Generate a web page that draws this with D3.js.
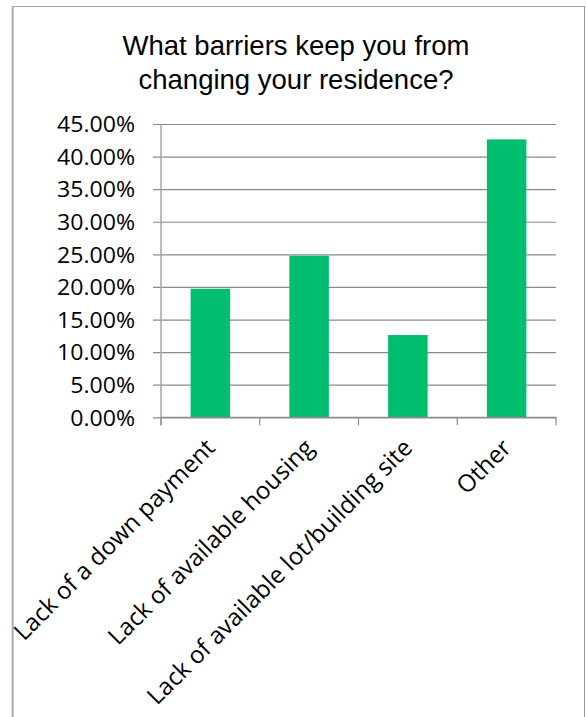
<!DOCTYPE html>
<html>
<head>
<meta charset="utf-8">
<script src="https://cdn.jsdelivr.net/npm/d3@7"></script>
<style>
  html, body { margin: 0; padding: 0; background: #fff; }
  svg { display: block; }
</style>
</head>
<body>
<script>
// Survey question and answers
const titleLines = ["What barriers keep you from", "changing your residence?"];
const categories = [
  "Lack of a down payment",
  "Lack of available housing",
  "Lack of available lot/building site",
  "Other"
];
const shares = [0.1972, 0.2479, 0.1262, 0.4264];
const yTicks = [0, 0.05, 0.10, 0.15, 0.20, 0.25, 0.30, 0.35, 0.40, 0.45];

const W = 586, H = 717;
const plot = { left: 161, right: 556, top: 124, bottom: 417.3 };
const stretch = 1.1; // percentage labels are set slightly wide

const svg = d3.select("body").append("svg")
  .attr("width", W).attr("height", H);

// chart frame
const frame = svg.append("g").attr("fill", "none");
frame.append("line").attr("x1", 12.7).attr("x2", 12.7).attr("y1", 6).attr("y2", H)
  .attr("stroke", "#adadad").attr("stroke-width", 2);
frame.append("line").attr("x1", 12).attr("x2", 585).attr("y1", 6.5).attr("y2", 6.5)
  .attr("stroke", "#a6a6a6").attr("stroke-width", 1);
frame.append("line").attr("x1", 584.5).attr("x2", 584.5).attr("y1", 6).attr("y2", H)
  .attr("stroke", "#9a9a9a").attr("stroke-width", 1);

// title
svg.append("text")
  .attr("x", 296).attr("y", 55)
  .attr("text-anchor", "middle")
  .attr("font-family", "'Liberation Sans', Arial, sans-serif")
  .attr("font-size", 27.5)
  .attr("fill", "#000")
  .selectAll("tspan").data(titleLines).join("tspan")
  .attr("x", 296).attr("dy", (d, i) => i === 0 ? 0 : 34)
  .text(d => d);

const x = d3.scaleBand()
  .domain(categories)
  .range([plot.left, plot.right])
  .paddingInner(0.6)
  .paddingOuter(0.3);

const y = d3.scaleLinear()
  .domain([0, 0.45])
  .range([plot.bottom, plot.top]);

const labelFont = "'Open Sans', sans-serif";

// horizontal gridlines with tick stubs to the left of the axis
const yAxis = d3.axisLeft(y)
  .tickValues(yTicks)
  .tickSize(-(plot.right - plot.left))
  .tickSizeOuter(0)
  .tickPadding(0)
  .tickFormat(d3.format(".2%"));

const gy = svg.append("g")
  .attr("transform", `translate(${plot.left},0)`)
  .call(yAxis);
gy.select(".domain").remove();
gy.selectAll(".tick line")
  .attr("x1", -8)
  .attr("stroke", "#8a8a8a")
  .attr("stroke-width", 1.2);
gy.selectAll(".tick text")
  .attr("x", 0)
  .attr("transform", `translate(-26,0) scale(${stretch},1)`)
  .attr("dy", "0.37em")
  .attr("font-family", labelFont)
  .attr("font-size", 21)
  .attr("fill", "#000");

// bars
svg.append("g").selectAll("rect")
  .data(categories.map((c, i) => ({ c, v: shares[i] })))
  .join("rect")
  .attr("x", d => x(d.c))
  .attr("width", x.bandwidth())
  .attr("y", d => y(d.v))
  .attr("height", d => y(0) - y(d.v))
  .attr("fill", "#00be6e");

// vertical axis line
svg.append("line")
  .attr("x1", plot.left).attr("x2", plot.left)
  .attr("y1", plot.top).attr("y2", plot.bottom + 8)
  .attr("stroke", "#a6a6a6").attr("stroke-width", 1.5);

// category axis with boundary ticks
const step = x.step();
const bounds = d3.range(categories.length + 1).map(i => plot.left + i * step);
const gx = svg.append("g");
gx.append("line")
  .attr("x1", plot.left).attr("x2", plot.right)
  .attr("y1", plot.bottom).attr("y2", plot.bottom)
  .attr("stroke", "#8a8a8a").attr("stroke-width", 1.2);
gx.selectAll("line.tick").data(bounds).join("line")
  .attr("class", "tick")
  .attr("x1", d => d).attr("x2", d => d)
  .attr("y1", plot.bottom).attr("y2", plot.bottom + 8)
  .attr("stroke", "#8a8a8a").attr("stroke-width", 1.2);

// rotated category labels
gx.selectAll("text").data(categories).join("text")
  .attr("transform", d => `translate(${x(d) + x.bandwidth() / 2 + 6},${plot.bottom + 32}) rotate(-45)`)
  .attr("text-anchor", "end")
  .attr("font-family", labelFont)
  .attr("font-size", 24)
  .attr("fill", "#000")
  .text(d => d);
</script>
</body>
</html>
